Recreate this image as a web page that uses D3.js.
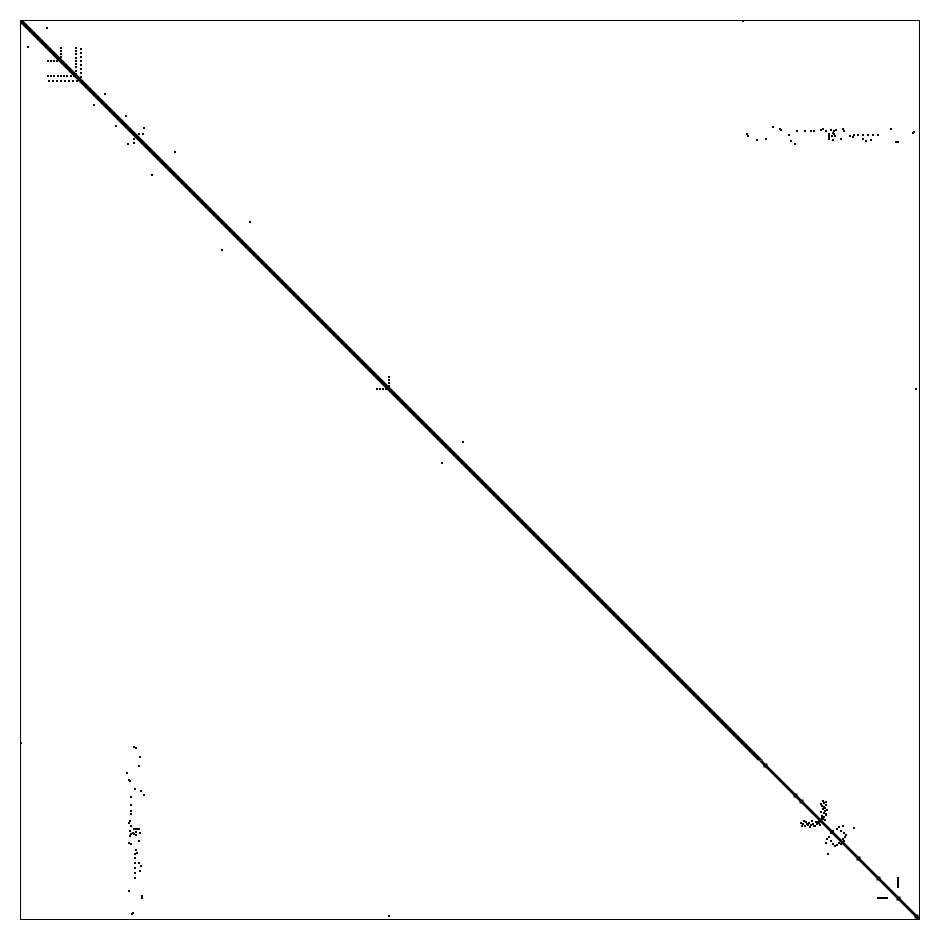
<!DOCTYPE html>
<html><head><meta charset="utf-8">
<script src="https://cdn.jsdelivr.net/npm/d3@7"></script>
<style>html,body{margin:0;padding:0;background:#fff;}</style>
</head><body>
<script>
// Sparse symmetric matrix (spy plot). Matrix order:
const matrixSize = 899;
// Main diagonal band: [startIndex, endIndex, bandWidth]
const diagStart = [0, 740];
const diagEnd = [740, 899];
const diagWidth = [5.4, 3.8];
// Extra thick spots along the diagonal
const diagBlobs = [1, 745, 775, 781, 800, 838, 858, 878, 896];
// Upper-triangle nonzero entries (row, col); drawn with their transposes
const entryRows = [
  27,30,33,36, 27,30,33,37,40,43,46,50,53, 28,32,36,40,44,48,52,56,
  7, 73, 95, 107, 113, 113, 131, 201, 356,359,362,365, 368, 0, 421,
  113,115,119,118,106,108,109,114,120,123,110,110,110,110,109,108,110,113,116,118,
  109,110,109,112,113,114,115,115,119,118,108,110,115,116,114,114,114,114,114,114,
  118,120,119,108,121,121,112,111,
  780,782,785,786,788,790,792,793,796,798,795,799,784,791,781,787,794,797,789,783,
  808,810,812,816,820,810,807,805,806,818,814,
  857,859,861,863,865,866
];
const entryCols = [
  40,40,40,40, 55,55,55,55,55,55,55,55,55, 60,60,60,60,60,60,60,60,
  26, 84, 105, 123, 122, 118, 154, 229, 368,368,368,368, 895, 722, 442,
  726,727,736,745,752,759,760,768,770,774,776,784,790,793,800,802,805,808,808,808,
  810,813,815,812,813,808,811,814,812,820,822,823,829,832,833,837,842,847,852,857,
  842,845,850,870,875,877,892,893,
  802,803,801,803,802,804,803,805,803,802,801,804,805,800,805,804,805,801,806,800,
  816,820,823,824,823,812,833,822,818,822,825,
  877,877,877,877,877,877
];

const W = 940, H = 940;
const plotLeft = 20.5, plotTop = 20.5, plotSize = 899;
const svg = d3.select("body").append("svg")
  .attr("width", W).attr("height", H)
  .style("display", "block");
svg.append("rect").attr("width", W).attr("height", H).attr("fill", "#fff");

const x = d3.scaleLinear().domain([0, matrixSize]).range([plotLeft, plotLeft + plotSize]);
const y = d3.scaleLinear().domain([0, matrixSize]).range([plotTop, plotTop + plotSize]);

svg.append("clipPath").attr("id", "clip")
  .append("rect").attr("x", plotLeft).attr("y", plotTop).attr("width", plotSize).attr("height", plotSize);

const g = svg.append("g").attr("clip-path", "url(#clip)");

// diagonal band
const segs = diagStart.map((s, i) => ({s, e: diagEnd[i], w: diagWidth[i]}));
g.selectAll("path.diag").data(segs).join("path")
  .attr("class", "diag")
  .attr("fill", "#000")
  .attr("d", d => {
    const h = d.w / 2;
    return "M" + x(d.s - h) + "," + y(d.s) +
      "L" + x(d.s + h) + "," + y(d.s) +
      "L" + x(d.e + h) + "," + y(d.e) +
      "L" + x(d.e - h) + "," + y(d.e) + "Z";
  });

g.selectAll("rect.blob").data(diagBlobs).join("rect")
  .attr("class", "blob")
  .attr("x", d => x(d) - 2).attr("y", d => y(d) - 2)
  .attr("width", 4).attr("height", 4).attr("fill", "#000");

// off-diagonal entries and their transposes
const entries = [];
entryRows.forEach((r, i) => {
  entries.push({r, c: entryCols[i]});
  entries.push({r: entryCols[i], c: r});
});
g.selectAll("rect.nz").data(entries).join("rect")
  .attr("class", "nz")
  .attr("x", d => Math.round(x(d.c) - 0.5))
  .attr("y", d => Math.round(y(d.r) - 0.5))
  .attr("width", 2).attr("height", 2)
  .attr("fill", "#000")
  .attr("shape-rendering", "crispEdges");

// frame
svg.append("rect")
  .attr("x", plotLeft).attr("y", plotTop).attr("width", plotSize).attr("height", plotSize)
  .attr("fill", "none").attr("stroke", "#000").attr("stroke-width", 1)
  .attr("shape-rendering", "crispEdges");
</script>
</body></html>
